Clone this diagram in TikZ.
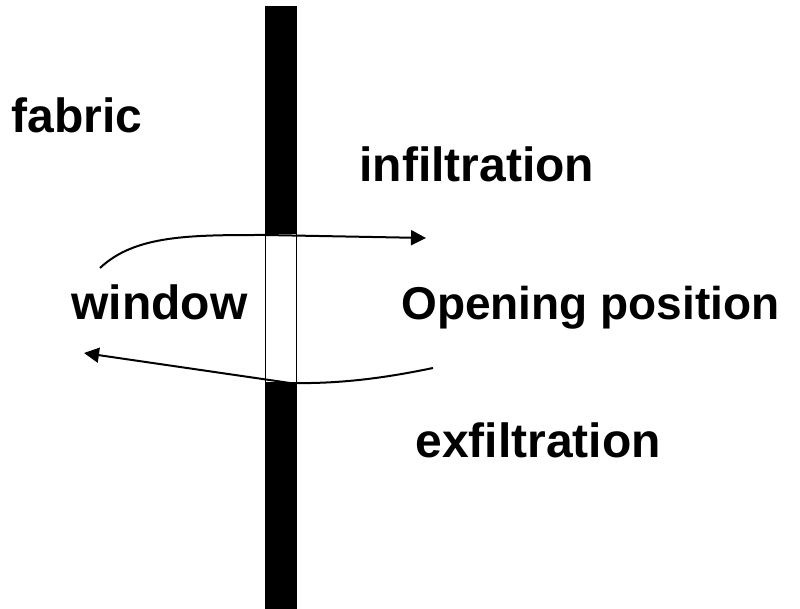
\documentclass[tikz,border=0pt]{standalone}
\usepackage{fontspec}
\setmainfont{Liberation Sans}
\usetikzlibrary{arrows.meta}
\begin{document}
\begin{tikzpicture}[x=0.5pt,y=-0.5pt,
  lbl/.style={anchor=base west,inner sep=0pt,font=\bfseries\fontsize{24}{28}\selectfont},
  flow/.style={line width=1pt,-{Triangle[length=7.5pt,width=7.5pt]}}]
\useasboundingbox (0,0) rectangle (800,609);
% wall
\fill[black] (265,6) rectangle (297,234);
\fill[black] (265,383) rectangle (297,609);
\draw[line width=0.9pt] (265.5,218) rectangle (296.5,383);
% labels
\node[lbl] (fabric) at (11,133) {fabric};
\node[lbl] (infil) at (359,182) {infiltration};
\node[lbl] (window) at (71,320) {window};
\node[lbl,font=\bfseries\fontsize{23}{27}\selectfont] (open) at (401,320) {Opening position};
\node[lbl] (exfil) at (415,458) {exfiltration};
% arrows
\coordinate (a1s) at (100,268);
\coordinate (a1m) at (265,235);
\coordinate (a1e) at (426,238);
\coordinate (a2s) at (433,368);
\coordinate (a2m) at (290,383);
\coordinate (a2e) at (84,353);
\draw[flow] (a1s) .. controls (135,235) and (190,235) .. (a1m) -- (a1e);
\draw[flow] (a2s) .. controls (385,378) and (340,384) .. (a2m) -- (a2e);
\end{tikzpicture}
\end{document}
